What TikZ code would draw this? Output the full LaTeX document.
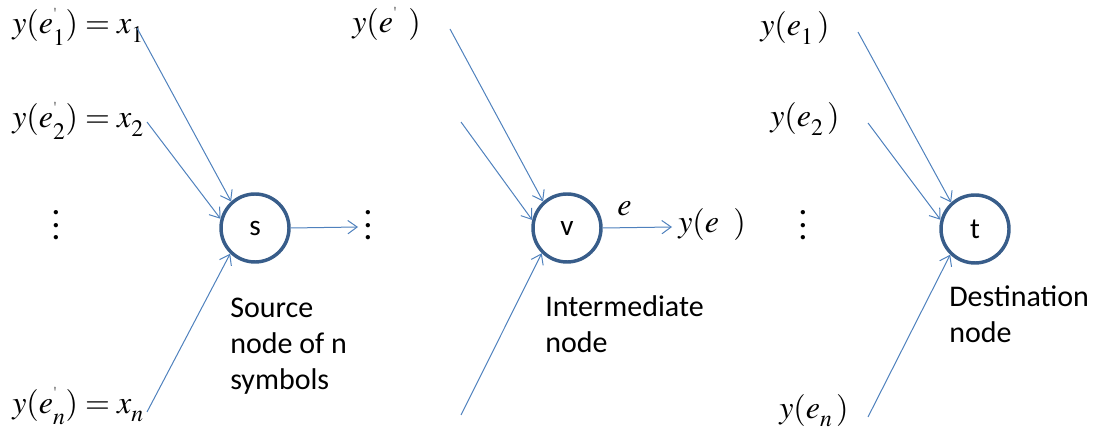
\documentclass[tikz,border=0pt]{standalone}
\usepackage{mathptmx}
\usepackage[no-math]{fontspec}
\newfontfamily\labelfont{Carlito}
\usepackage{tikz}
\usetikzlibrary{arrows.meta}
\definecolor{edgeblue}{RGB}{79,129,189}
\definecolor{ringblue}{RGB}{56,93,138}
\newcommand{\tallvdots}{\vbox{\baselineskip=9.4pt\lineskiplimit=-20pt
  \hbox{\fontsize{12}{12}\selectfont\textbullet}
  \hbox{\fontsize{12}{12}\selectfont\textbullet}
  \hbox{\fontsize{12}{12}\selectfont\textbullet}}}
\newcommand{\tick}{\raisebox{3pt}{\fontsize{11}{11}\selectfont\textquotesingle}}
\newcommand{\lowsub}[1]{\lower2.5pt\hbox{$\scriptstyle #1$}}
\tikzset{
  flow/.style={-{Straight Barb[length=7pt,width=10pt]}, line width=0.75pt, draw=edgeblue},
  netnode/.style={
    circle,
    draw=ringblue,
    line width=2.6pt,
    minimum size=51pt,
    inner sep=0pt,
    font=\labelfont\fontsize{22}{26}\selectfont
  },
  mathlabel/.style={font=\fontsize{24}{28}\selectfont, inner sep=0pt, anchor=base west},
  textlabel/.style={font=\labelfont\fontsize{22.5}{27}\selectfont, align=left, inner sep=0pt, anchor=north west},
  dotsmark/.style={inner sep=0pt}
}

\begin{document}
\begin{tikzpicture}[x=0.75pt,y=-0.75pt]
  \useasboundingbox (0,0) rectangle (1099,434);

  % source
  \node[netnode] (s) at (255,228) {s};
  \node[mathlabel] (srcA) at (12,34) {$y(e^{\tick}_{\lowsub{1}})=x_{\lowsub{1}}$};
  \node[mathlabel] (srcB) at (12,128) {$y(e^{\tick}_{\lowsub{2}})=x_{\lowsub{2}}$};
  \node[mathlabel] (srcN) at (12,413) {$y(e^{\tick}_{\lowsub{n}})=x_{\lowsub{n}}$};
  \node[dotsmark] (srcdots) at (56,226) {\tallvdots};
  \node[dotsmark] (outdots) at (368,226) {\tallvdots};
  \coordinate (sinA) at (137,28);
  \coordinate (sinB) at (147,122);
  \coordinate (sinN) at (147,412);
  \coordinate (sout) at (358,227);
  \draw[flow] (sinA) -- (s.132);
  \draw[flow] (sinB) -- (s.165);
  \draw[flow] (sinN) -- (s.226);
  \draw[flow] (s.east) -- (sout);
  \node[textlabel] (stext) at (230,298) {Source\\node of n\\symbols};

  % intermediate
  \node[netnode] (v) at (567,228) {v};
  \node[mathlabel] (midin) at (352,33) {$y(e^{\tick}\;\,)$};
  \node[mathlabel] (midout) at (678,233) {$y(e\;\;)$};
  \coordinate (vinA) at (450,29);
  \coordinate (vinB) at (461,122);
  \coordinate (vinN) at (461,415);
  \coordinate (vout) at (672,227);
  \draw[flow] (vinA) -- (v.132);
  \draw[flow] (vinB) -- (v.167);
  \draw[flow] (vinN) -- (v.225);
  \draw[flow] (v.east) -- (vout);
  \node[mathlabel] (elabel) at (617,216) {$e$};
  \node[textlabel] (vtext) at (545,295) {Intermediate\\node};

  % destination
  \node[netnode] (t) at (975,229) {t};
  \node[mathlabel] (dstA) at (760,36) {$y(e_{\lowsub{1}}\,)$};
  \node[mathlabel] (dstB) at (770,127) {$y(e_{\lowsub{2}}\,)$};
  \node[mathlabel] (dstN) at (779,418) {$y(e_{\lowsub{n}}\,)$};
  \node[dotsmark] (dstdots) at (803,226) {\tallvdots};
  \coordinate (tinA) at (858,32);
  \coordinate (tinB) at (868,123);
  \coordinate (tinN) at (868,417);
  \draw[flow] (tinA) -- (t.132);
  \draw[flow] (tinB) -- (t.165);
  \draw[flow] (tinN) -- (t.226);
  \node[textlabel] (ttext) at (949,285) {Destination\\node};
\end{tikzpicture}
\end{document}
